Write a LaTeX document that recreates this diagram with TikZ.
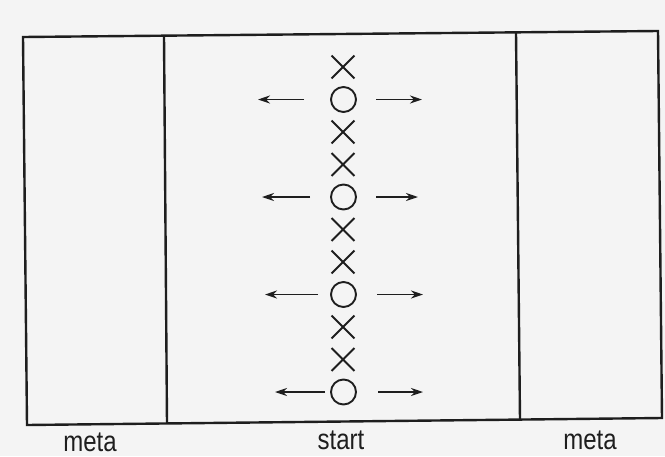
\documentclass[tikz,border=0pt]{standalone}
\usepackage{fontspec}
\setmainfont{Liberation Sans}
\usetikzlibrary{shapes.misc,arrows.meta}
\definecolor{paper}{HTML}{F4F4F4}
\definecolor{ink}{HTML}{1E1E1E}
\begin{document}
\begin{tikzpicture}[x=1pt,y=-1pt,
  frameline/.style={draw=ink,line width=2.4pt,line join=miter},
  xmark/.style={cross out,draw=ink,line width=1.9pt,minimum width=21pt,minimum height=21pt,inner sep=0pt},
  omark/.style={circle,draw=ink,line width=1.9pt,minimum size=25pt,inner sep=0pt},
  arr/.style={draw=ink,line width=1.7pt,-{Stealth[length=12pt,width=8pt]}},
  lbl/.style={font=\fontsize{24}{24}\selectfont,text=ink,yscale=1.2,inner sep=0pt}]
\fill[paper] (0,0) rectangle (665,456);
\useasboundingbox (0,0) rectangle (665,456);
% frame
\draw[frameline] (23,37) -- (658,31) -- (662,418) -- (27,425) -- cycle;
\draw[frameline] (164,35.7) -- (167,423.5);
\draw[frameline] (516,32.3) -- (520,419.6);
% column of marks
\foreach \k in {0,2,3,5,6,8,9}{
  \pgfmathsetmacro{\yy}{67+32.5*\k}
  \node[xmark] (n\k) at (343,\yy) {};
}
\foreach \k in {1,4,7,10}{
  \pgfmathsetmacro{\yy}{67+32.5*\k}
  \node[omark] (n\k) at (343.5,\yy) {};
}
% arrows
\foreach \k/\ls/\le/\rs/\re in {1/304/258/376/422, 4/310/262/376/418, 7/318/265/377/423, 10/325/275/378/423}{
  \pgfmathsetmacro{\yy}{67+32.5*\k}
  \coordinate (la\k) at (\ls,\yy);
  \coordinate (lb\k) at (\le,\yy);
  \coordinate (ra\k) at (\rs,\yy);
  \coordinate (rb\k) at (\re,\yy);
  \draw[arr] (la\k) -- (lb\k);
  \draw[arr] (ra\k) -- (rb\k);
}
% labels
\node[lbl] (m1) at (90,442) {meta};
\node[lbl] (st) at (341,440) {start};
\node[lbl] (m2) at (590,440) {meta};
\end{tikzpicture}
\end{document}
